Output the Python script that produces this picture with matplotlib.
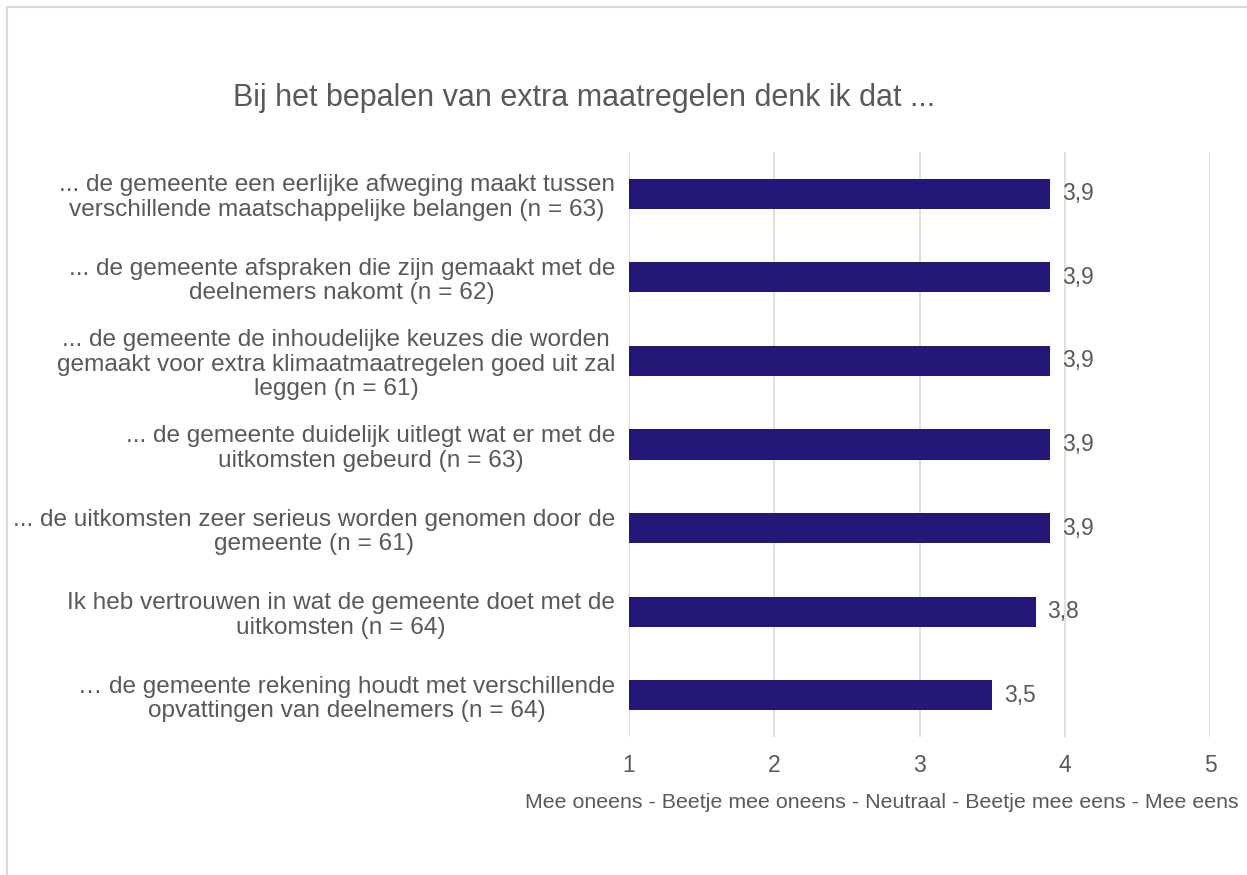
import matplotlib.pyplot as plt
from matplotlib.patches import Rectangle

plt.rcParams['font.family'] = ['Liberation Sans', 'DejaVu Sans']

# data (top to bottom)
labels = [
    "... de gemeente een eerlijke afweging maakt tussen\nverschillende maatschappelijke belangen (n = 63)",
    "... de gemeente afspraken die zijn gemaakt met de\ndeelnemers nakomt (n = 62)",
    "... de gemeente de inhoudelijke keuzes die worden\ngemaakt voor extra klimaatmaatregelen goed uit zal\nleggen (n = 61)",
    "... de gemeente duidelijk uitlegt wat er met de\nuitkomsten gebeurd (n = 63)",
    "... de uitkomsten zeer serieus worden genomen door de\ngemeente (n = 61)",
    "Ik heb vertrouwen in wat de gemeente doet met de\nuitkomsten (n = 64)",
    "\u2026 de gemeente rekening houdt met verschillende\nopvattingen van deelnemers (n = 64)",
]
values = [3.9, 3.9, 3.9, 3.9, 3.9, 3.8, 3.5]
x_ticks = [1, 2, 3, 4, 5]
title = "Bij het bepalen van extra maatregelen denk ik dat ..."
x_label = "Mee oneens - Beetje mee oneens - Neutraal - Beetje mee eens - Mee eens"

text_color = '#595959'
bar_color = '#231877'
grid_color = '#d9d9d9'

W, H = 1247, 875
fig = plt.figure(figsize=(W / 100, H / 100), dpi=100)

# outer chart frame
fig.patches.append(Rectangle((7 / W, -0.1), 1.2, 1 - 7 / H + 0.1, transform=fig.transFigure,
                             fill=False, edgecolor='#d9d9d9', linewidth=1.5))

ax = fig.add_axes([629 / W, 1 - 737 / H, (1210 - 629) / W, (737 - 152) / H])

pos = list(range(len(values)))[::-1]
ax.barh(pos, [v - 1 for v in values], left=1, height=0.36, color=bar_color, zorder=3)
for p, v in zip(pos, values):
    ax.text(v + 0.08, p, f"{v:.1f}".replace('.', ','), va='center', ha='left',
            fontsize=16.5, color=text_color)

ax.set_xlim(1, 5)
ax.set_ylim(-0.5, len(values) - 0.5)
ax.set_xticks(x_ticks)
ax.set_xticklabels([str(t) for t in x_ticks], fontsize=16.5, color=text_color)
ax.set_yticks(pos)
ax.set_yticklabels(labels, fontsize=17.6, color=text_color)
for t in ax.get_yticklabels():
    t.set_multialignment('center')
    t.set_linespacing(1.15)
ax.tick_params(axis='both', length=0)
ax.tick_params(axis='y', pad=10)
ax.tick_params(axis='x', pad=12)
ax.grid(axis='x', color=grid_color, linewidth=1.2, zorder=0)
for s in ax.spines.values():
    s.set_visible(False)

fig.text(1239 / W, 1 - 803 / H, x_label, ha='right', va='center', fontsize=15.4, color=text_color)
fig.text(584 / W, 1 - 98 / H, title, ha='center', va='center', fontsize=22, color=text_color)

fig.savefig('out.png', dpi=100)
